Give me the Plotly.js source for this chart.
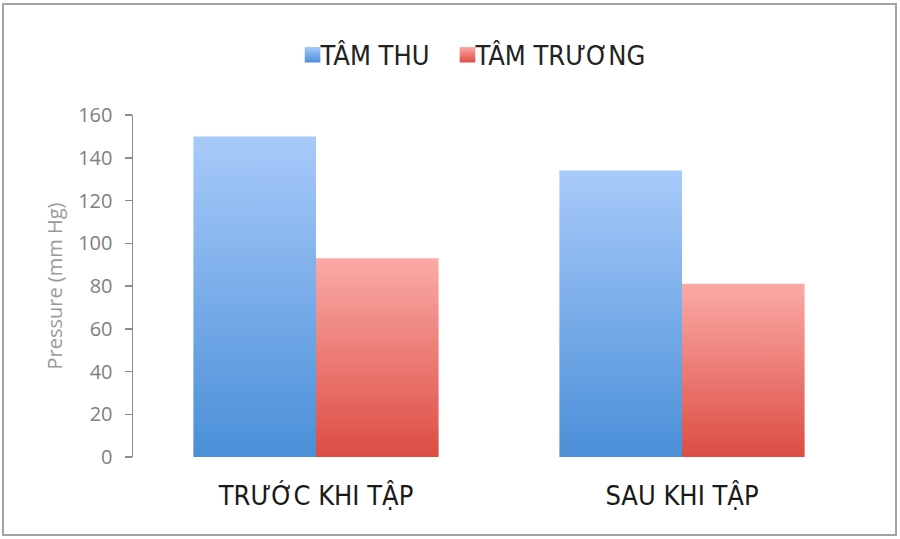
<!DOCTYPE html>
<html>
<head>
<meta charset="utf-8">
<script src="https://cdn.plot.ly/plotly-3.0.1.min.js"></script>
<style>
  body { margin: 0; background: #fff; }
  #chart { position: absolute; left: 0; top: 0; width: 900px; height: 539px; }
  #frame { position: absolute; left: 2px; top: 3px; width: 891px; height: 529px;
           border: 2px solid #a3a3a3; pointer-events: none; }
</style>
</head>
<body>
<div id="chart"></div>
<div id="frame"></div>
<script>
var categories = ['TRƯỚC KHI TẬP', 'SAU KHI TẬP'];
var tamThu = [150, 134];
var tamTruong = [93, 81];
var yTicks = [0, 20, 40, 60, 80, 100, 120, 140, 160];

var labelFont = 'DejaVu Sans Condensed, sans-serif';

var trace1 = {
    x: categories,
    y: tamThu,
    name: 'TÂM THU',
    type: 'bar',
    marker: { color: '#78a9ea' },
    hoverinfo: 'y'
};

var trace2 = {
    x: categories,
    y: tamTruong,
    name: 'TÂM TRƯƠNG',
    type: 'bar',
    marker: { color: '#ee7f78' },
    hoverinfo: 'y'
};

var layout = {
    width: 900,
    height: 539,
    margin: { l: 133, r: 35, t: 115, b: 82 },
    paper_bgcolor: '#fff',
    plot_bgcolor: '#fff',
    barmode: 'group',
    bargap: 0.33,
    bargroupgap: 0,
    showlegend: true,
    legend: {
        orientation: 'h',
        x: 0.455, xanchor: 'center',
        y: 1.175, yanchor: 'middle',
        font: { family: labelFont, size: 27, color: '#222' },
        itemwidth: 30,
        tracegroupgap: 0
    },
    xaxis: {
        showline: false,
        ticks: '',
        showgrid: false,
        tickfont: { family: labelFont, size: 27, color: '#1a1a1a' },
        ticklabelstandoff: 20
    },
    yaxis: {
        range: [0, 160],
        tickvals: yTicks,
        showgrid: false,
        zeroline: false,
        showline: true,
        linecolor: '#8c8c8c',
        linewidth: 1.5,
        ticks: 'outside',
        ticklen: 7,
        tickcolor: '#8c8c8c',
        tickwidth: 1.5,
        ticklabelstandoff: 8,
        tickfont: { family: 'Open Sans, sans-serif', size: 20, color: '#808080' },
        title: {
            text: 'Pressure (mm Hg)',
            font: { family: 'Open Sans, sans-serif', size: 20, color: '#9a9a9a' },
            standoff: 10
        }
    }
};

function addGradients(gd) {
    var svg = gd.querySelector('svg.main-svg');
    var ns = 'http://www.w3.org/2000/svg';
    var defs = svg.querySelector('defs') || svg.insertBefore(document.createElementNS(ns, 'defs'), svg.firstChild);
    var grads = [
        { id: 'gBlue', top: '#a8cafa', bottom: '#4a8fd8' },
        { id: 'gRed', top: '#fbaaa6', bottom: '#dc4d43' }
    ];
    grads.forEach(function (g) {
        var lg = document.createElementNS(ns, 'linearGradient');
        lg.setAttribute('id', g.id);
        lg.setAttribute('x1', '0'); lg.setAttribute('y1', '0');
        lg.setAttribute('x2', '0'); lg.setAttribute('y2', '1');
        [[0, g.top], [1, g.bottom]].forEach(function (s) {
            var st = document.createElementNS(ns, 'stop');
            st.setAttribute('offset', s[0]);
            st.setAttribute('stop-color', s[1]);
            lg.appendChild(st);
        });
        defs.appendChild(lg);
    });
    var traces = gd.querySelectorAll('.barlayer .trace');
    traces.forEach(function (t, i) {
        t.querySelectorAll('path').forEach(function (p) {
            p.style.fill = 'url(#' + grads[i].id + ')';
        });
    });
    // legend swatches: bigger, gradient, sitting right next to the text
    var legendPts = gd.querySelectorAll('.legend .traces');
    legendPts.forEach(function (t, i) {
        t.querySelectorAll('.legendpoints path').forEach(function (p) {
            p.style.fill = 'url(#' + grads[i].id + ')';
            p.style.stroke = 'none';
            var tr = p.getAttribute('transform') || '';
            p.setAttribute('transform', tr + ' translate(12,0) scale(1.3)');
        });
    });
}

Plotly.newPlot('chart', [trace1, trace2], layout, { displayModeBar: false, staticPlot: true })
    .then(addGradients);
</script>
</body>
</html>
